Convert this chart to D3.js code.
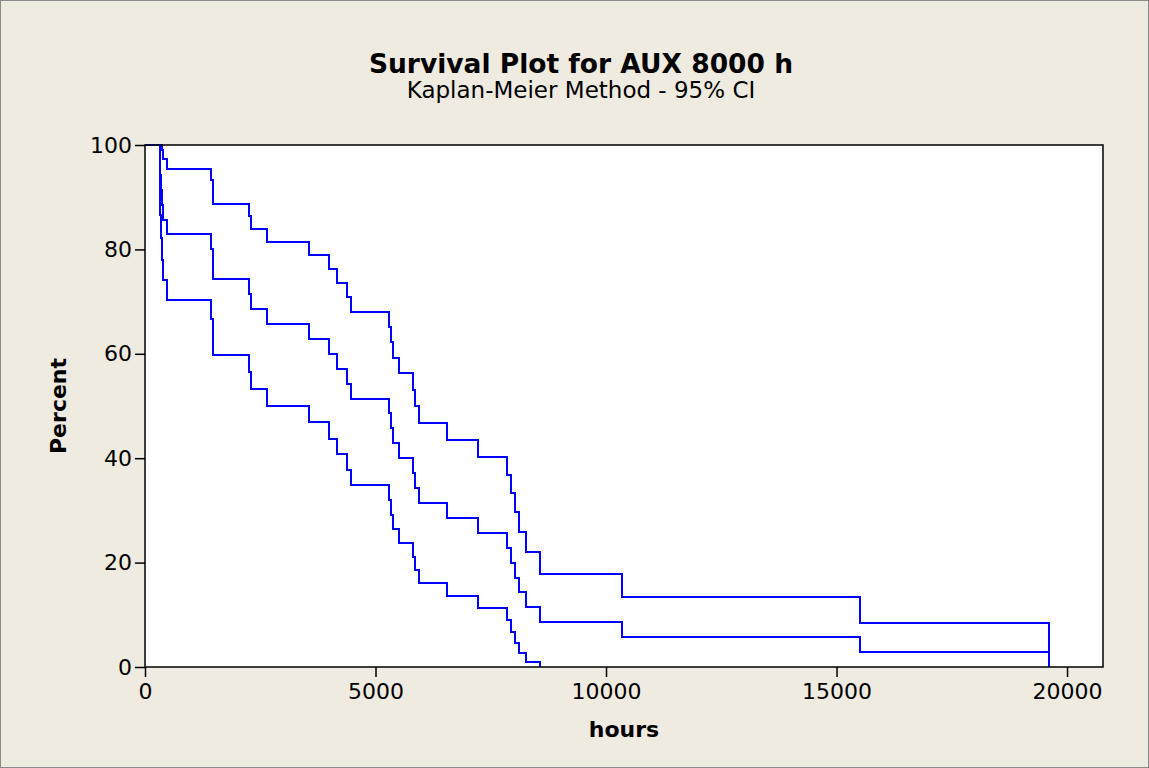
<!DOCTYPE html>
<html>
<head>
<meta charset="utf-8">
<script src="https://cdn.jsdelivr.net/npm/d3@7/dist/d3.min.js"></script>
<style>
  html, body { margin: 0; padding: 0; background: #EFEBE1; }
  svg { display: block; }
  text { font-family: "DejaVu Sans", Verdana, sans-serif; fill: #000; }
</style>
</head>
<body>
<svg id="chart" width="1149" height="768"></svg>
<script>
// ---- data ----
const titleText = "Survival Plot for AUX 8000 h";
const subtitleText = "Kaplan-Meier Method - 95% CI";
const xLabel = "hours";
const yLabel = "Percent";
const xTicks = [0, 5000, 10000, 15000, 20000];
const yTicks = [0, 20, 40, 60, 80, 100];

// failure times (hours) at which the curves step down
const stepHours = [320, 335, 350, 365, 380, 470, 1432, 1468, 2256, 2292, 2640, 3550,
  3997, 4157, 4380, 4460, 5300, 5336, 5372, 5510, 5820, 5860, 5950, 6550, 7220,
  7852, 7939, 8026, 8113, 8265, 8568, 10343, 15500, 19600];
// Kaplan-Meier estimate (%) after each step
const estimatePct = [97.14, 94.29, 91.43, 88.57, 85.71, 82.86, 80.00, 74.29, 71.43, 68.57,
  65.71, 62.86, 60.00, 57.14, 54.29, 51.43, 48.57, 45.71, 42.86, 40.00, 37.14, 34.29,
  31.43, 28.57, 25.71, 22.86, 20.00, 17.14, 14.29, 11.43, 8.57, 5.71, 2.86, 0];
// upper 95% CI (%) after each step
const upperPct = [100, 100, 100, 99.11, 97.31, 95.34, 93.25, 88.77, 86.40, 83.95,
  81.44, 78.87, 76.23, 73.54, 70.79, 67.99, 65.13, 62.22, 59.25, 56.23, 53.15, 50.01,
  46.81, 43.54, 40.19, 36.77, 33.25, 29.63, 25.88, 21.97, 17.85, 13.40, 8.38, 0];
// lower 95% CI (%) after each step
const lowerPct = [91.62, 86.60, 82.15, 78.03, 74.12, 70.37, 66.75, 59.81, 56.46, 53.19,
  49.99, 46.85, 43.77, 40.75, 37.78, 34.87, 32.01, 29.21, 26.46, 23.77, 21.14, 18.56,
  16.05, 13.60, 11.23, 8.95, 6.75, 4.66, 2.69, 0.89, 0, 0, 0, 0];

// ---- layout ----
const W = 1149, H = 768;
const plot = { left: 145, right: 1103, top: 145, bottom: 667 };

const svg = d3.select("#chart");
svg.append("rect").attr("x", 0.5).attr("y", 0.5).attr("width", W - 1).attr("height", H - 1)
  .attr("fill", "#EFEBE1").attr("stroke", "#8a8a8a").attr("stroke-width", 1);

const x = d3.scaleLinear().domain([0, 20780]).range([plot.left, plot.right]);
const y = d3.scaleLinear().domain([0, 100]).range([plot.bottom, plot.top]);

svg.append("rect")
  .attr("x", plot.left).attr("y", plot.top)
  .attr("width", plot.right - plot.left).attr("height", plot.bottom - plot.top)
  .attr("fill", "#fff");

function buildSeries(levels) {
  const pts = [[0, 100]];
  for (let i = 0; i < stepHours.length; i++) {
    pts.push([stepHours[i], levels[i]]);
    if (levels[i] <= 0) break;
  }
  return pts;
}

const line = d3.line().x(d => x(d[0])).y(d => y(d[1])).curve(d3.curveStepAfter);
const g = svg.append("g");
[upperPct, estimatePct, lowerPct].forEach(levels => {
  g.append("path").datum(buildSeries(levels))
    .attr("d", line)
    .attr("fill", "none")
    .attr("stroke", "#0000FF")
    .attr("stroke-width", 2)
    .attr("shape-rendering", "crispEdges");
});

// frame
svg.append("rect")
  .attr("x", plot.left).attr("y", plot.top)
  .attr("width", plot.right - plot.left).attr("height", plot.bottom - plot.top)
  .attr("fill", "none").attr("stroke", "#000").attr("stroke-width", 1.5);

// axes
const xAxis = d3.axisBottom(x).tickValues(xTicks).tickSize(10).tickPadding(6).tickFormat(d3.format("d"));
const yAxis = d3.axisLeft(y).tickValues(yTicks).tickSize(10).tickPadding(3).tickFormat(d3.format("d"));

const gx = svg.append("g").attr("transform", `translate(0,${plot.bottom})`).call(xAxis);
const gy = svg.append("g").attr("transform", `translate(${plot.left},0)`).call(yAxis);
[gx, gy].forEach(a => {
  a.select(".domain").remove();
  a.selectAll(".tick line").attr("stroke", "#000").attr("stroke-width", 1.5);
  a.selectAll(".tick text").attr("font-family", "DejaVu Sans, Verdana, sans-serif")
    .attr("font-size", 22).attr("fill", "#000");
});

// titles
svg.append("text").attr("x", 581).attr("y", 73).attr("text-anchor", "middle")
  .attr("font-size", 26.5).attr("font-weight", "bold").text(titleText);
svg.append("text").attr("x", 581).attr("y", 98).attr("text-anchor", "middle")
  .attr("font-size", 23).text(subtitleText);
svg.append("text").attr("x", (plot.left + plot.right) / 2).attr("y", 737).attr("text-anchor", "middle")
  .attr("font-size", 22).attr("font-weight", "bold").text(xLabel);
svg.append("text")
  .attr("transform", `translate(66,${(plot.top + plot.bottom) / 2}) rotate(-90)`)
  .attr("text-anchor", "middle")
  .attr("font-size", 22).attr("font-weight", "bold").text(yLabel);
</script>
</body>
</html>
